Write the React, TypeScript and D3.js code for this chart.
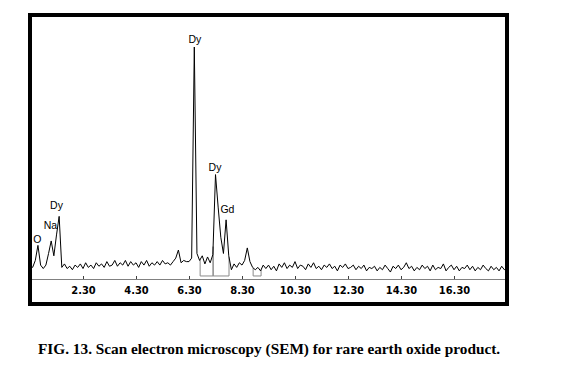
import { useRef, useEffect } from 'react'
import * as d3 from 'd3'

// EDS spectrum, channels every 0.1 keV starting at 0.3 keV
const energyStart = 0.3
const energyStep = 0.1
const counts = [
  6, 5, 8, 14.5, 6, 4.5, 6, 11, 16.4, 10,
  19, 27, 5, 6.5, 4.5, 5.5, 4, 6, 5, 6.5,
  4.5, 7, 5, 6, 4.5, 7, 5.5, 6.5, 5, 7.5,
  5.5, 6, 8, 5.5, 7, 6, 8, 5.5, 7.5, 6,
  7, 5, 7.5, 6, 8, 5.5, 7, 6, 7.5, 6,
  8, 6.5, 7, 6, 7.5, 9, 12.5, 7, 8, 7.5,
  7.5, 9, 100, 11, 8, 10, 6.5, 9.5, 7, 10.5,
  45, 31, 18, 11, 25.5, 10, 4, 6.5, 5, 7,
  6, 8, 13.4, 7.5, 5, 4, 5, 3.5, 6,
  4.5, 6, 4, 5.5, 3.5, 6.5, 5, 7, 4.5, 6,
  5, 7.5, 4.5, 6, 5.5, 4, 6.5, 5, 7, 4.5,
  5.5, 4, 6, 5, 6.5, 4.5, 5.5, 3.5, 6, 5,
  6.5, 4.5, 5, 6, 4, 5.5, 4.5, 6, 3.5, 5,
  4.5, 5.5, 3.5, 5, 4, 6, 4.5, 3, 5.5, 4.5,
  6, 4, 5, 7, 4.5, 5.5, 3.5, 5, 4, 6,
  4.5, 5.5, 3.5, 6, 4, 5, 4.5, 6.5, 3.5, 5,
  6, 4, 5.5, 3.5, 5, 4.5, 6, 4, 5.5, 3.5,
  5, 4, 6, 4.5, 3.5, 5.5, 4, 5, 3.5, 5.5,
  4, 5,
]

// regions of interest (keV) marked in gray under the peaks
const roiStart = [6.72, 7.21, 8.72]
const roiEnd = [7.21, 7.81, 9.02]
const roiFloor = 1.3

// element labels
const peakNames = ['O', 'Na', 'Dy', 'Dy', 'Dy', 'Gd']
const peakEnergies = [0.58, 1.07, 1.3, 6.52, 7.28, 7.75]
const labelLevels = [17, 23.3, 31.9, 103.4, 48.3, 30.2]

const tickValues = [2.3, 4.3, 6.3, 8.3, 10.3, 12.3, 14.3, 16.3]

const caption = 'FIG. 13. Scan electron microscopy (SEM) for rare earth oxide product.'

export default function App() {
  const svgRef = useRef<SVGSVGElement>(null)
  const width = 565
  const height = 373

  useEffect(() => {
    if (!svgRef.current) return
    const svg = d3.select(svgRef.current)
    svg.selectAll('*').remove()

    const frame = { x: 30, y: 15, w: 477, h: 289 }
    const x = d3.scaleLinear().domain([0.3, 18.3]).range([frame.x, frame.x + frame.w])
    const y = d3.scaleLinear().domain([0, 100]).range([279, 47])

    const points: [number, number][] = counts.map((c, i) => [energyStart + i * energyStep, c])
    const valueAt = (e: number) => {
      const i = d3.bisector((p: [number, number]) => p[0]).left(points, e)
      if (i <= 0) return points[0][1]
      const a = points[i - 1], b = points[i]
      return a[1] + (b[1] - a[1]) * (e - a[0]) / (b[0] - a[0])
    }

    svg.append('defs').append('clipPath').attr('id', 'plot-clip')
      .append('rect')
      .attr('x', frame.x + 2).attr('y', frame.y + 2)
      .attr('width', frame.w - 4).attr('height', frame.h - 4)

    const plot = svg.append('g').attr('clip-path', 'url(#plot-clip)')

    // axis
    const axis = d3.axisBottom(x)
      .tickValues(tickValues)
      .tickFormat(d3.format('.2f'))
      .tickSizeInner(-3)
      .tickSizeOuter(0)
      .tickPadding(7)
    const axisG = plot.append('g').attr('transform', 'translate(0,279)').call(axis)
    axisG.select('.domain').attr('stroke', '#808080').attr('stroke-width', 1)
    axisG.selectAll('.tick line').attr('stroke', '#404040')
    axisG.selectAll('.tick text')
      .attr('fill', '#000')
      .style('font-family', '"Liberation Sans Narrow", "DejaVu Sans Condensed", sans-serif')
      .style('font-weight', 'bold')
      .style('font-size', '11px')

    // gray ROI boxes
    roiStart.forEach((s, i) => {
      const e = roiEnd[i]
      const d = [
        [x(s), y(valueAt(s))],
        [x(s), y(roiFloor)],
        [x(e), y(roiFloor)],
        [x(e), y(valueAt(e))],
      ] as [number, number][]
      plot.append('path')
        .attr('d', d3.line()(d))
        .attr('fill', 'none')
        .attr('stroke', '#8a8a8a')
        .attr('stroke-width', 1)
    })

    // spectrum
    const line = d3.line<[number, number]>()
      .x(d => x(d[0]))
      .y(d => y(d[1]))
    plot.append('path')
      .attr('d', line(points))
      .attr('fill', 'none')
      .attr('stroke', '#000')
      .attr('stroke-width', 1)

    // element labels
    plot.selectAll('.peak-label')
      .data(peakNames)
      .enter()
      .append('text')
      .attr('class', 'peak-label')
      .attr('x', (_, i) => x(peakEnergies[i]))
      .attr('y', (_, i) => y(labelLevels[i]))
      .attr('dy', '0.35em')
      .attr('text-anchor', 'middle')
      .style('font-family', '"Liberation Sans", Arial, sans-serif')
      .style('font-size', '10.5px')
      .attr('fill', '#000')
      .text(d => d)

    // frame
    svg.append('rect')
      .attr('x', frame.x).attr('y', frame.y)
      .attr('width', frame.w).attr('height', frame.h)
      .attr('fill', 'none')
      .attr('stroke', '#000')
      .attr('stroke-width', 4)

    // caption
    svg.append('text')
      .attr('x', 38)
      .attr('y', 354)
      .style('font-family', '"Liberation Serif", "Times New Roman", serif')
      .style('font-weight', 'bold')
      .style('font-size', '15.3px')
      .attr('fill', '#000')
      .text(caption)
  }, [])

  return (
    <svg
      ref={svgRef}
      width={width}
      height={height}
      style={{ position: 'absolute', left: 0, top: 0, background: '#fff' }}
    />
  )
}
